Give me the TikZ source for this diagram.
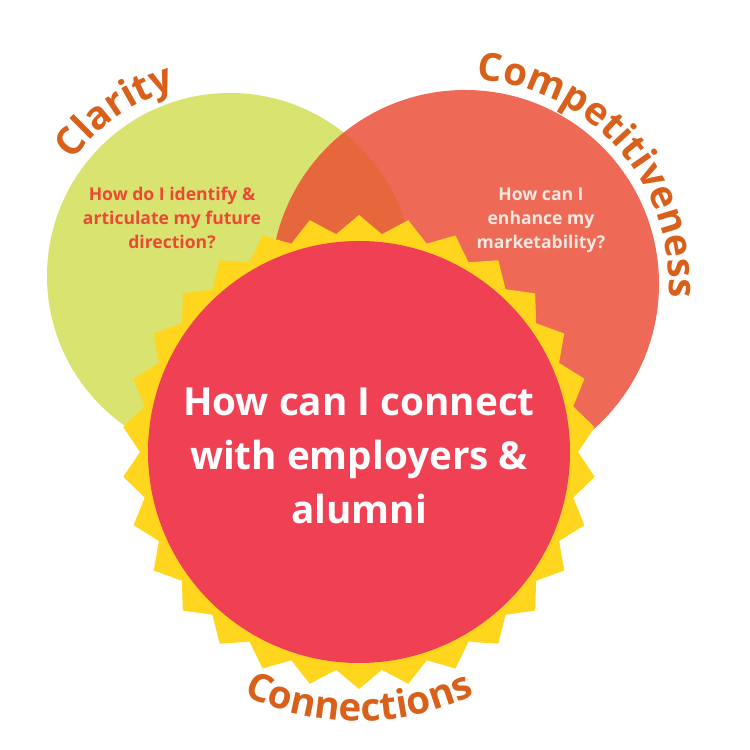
\documentclass[tikz,border=0pt]{standalone}
\usepackage{fontspec}
\setmainfont{Open Sans}
\usepackage{xcolor}
\usepackage{tikz}
\usetikzlibrary{decorations.text,positioning}

\definecolor{clarityfill}{HTML}{D9E36F}
\definecolor{compfill}{HTML}{EF6A56}
\definecolor{overlapfill}{HTML}{E6673C}
\definecolor{sunfill}{HTML}{FFD51E}
\definecolor{connectfill}{HTML}{F04154}
\definecolor{labelbrown}{HTML}{D8601A}
\definecolor{claritytext}{HTML}{EA4A35}
\definecolor{comptext}{HTML}{F5E8E2}

\begin{document}
\begin{tikzpicture}[x=0.02cm, y=0.02cm, font=\bfseries]
	\tikzstyle{question}=[align=center, inner sep=0pt]
	\tikzstyle{smallq}=[question, font=\bfseries\fontsize{10}{13.6}\selectfont]
	\tikzstyle{arclabel}=[decorate, decoration={text along path, text align=center, text color=labelbrown}]
	\useasboundingbox (0,0) rectangle (750,750);
	\coordinate (G) at (230,474);
	\coordinate (O) at (465,466);
	\coordinate (R) at (359,298);
	% the three areas
	\fill[clarityfill] (G) circle[radius=183];
	\fill[compfill] (O) circle[radius=194];
	\begin{scope}
		\clip (G) circle[radius=183];
		\fill[overlapfill] (O) circle[radius=194];
	\end{scope}
	\fill[sunfill, shift={(R)}] (0:219) \foreach \a in {0,12,...,348}{ -- (\a+6:237) -- (\a+12:219)} -- cycle;
	\fill[connectfill] (R) circle[radius=211];
	% questions
	\node[smallq, text=claritytext] (clarityq) at (172,532) {How do I identify \&\\articulate my future\\direction?};
	\node[smallq, text=comptext]    (compq)    at (541,530) {How can I\\enhance my\\marketability?};
	\node[question, text=white, font=\bfseries\fontsize{22}{30.6}\selectfont] (connectq) at (359,294) {How can I connect\\with employers \&\\alumni};
	% labels round the circles
	\path[arclabel, decoration={text={|\fontsize{22}{22}\selectfont\bfseries|Clarity}}]
		(G) ++(150:195) arc[start angle=150, end angle=100, radius=195];
	\path[arclabel, decoration={text={|\fontsize{22}{22}\selectfont\bfseries|Competitiveness}}]
		(O) ++(105:204) arc[start angle=105, end angle=-22, radius=204];
	\path[arclabel, decoration={text={|\fontsize{22}{22}\selectfont\bfseries|Connections}}]
		(R) ++(225:269) arc[start angle=225, end angle=315, radius=269];
\end{tikzpicture}
\end{document}
